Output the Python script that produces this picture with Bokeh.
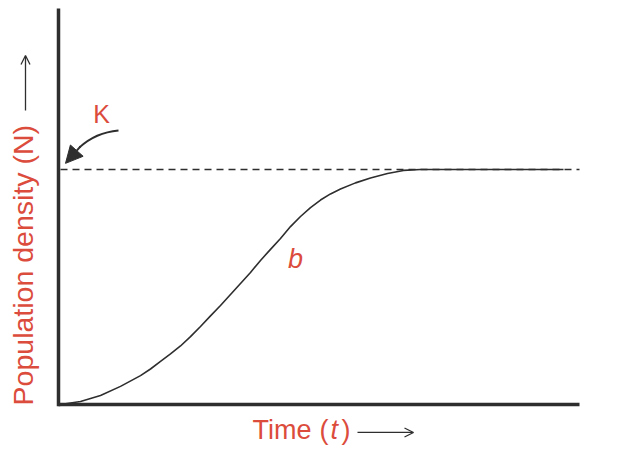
import math
from bokeh.plotting import figure
from bokeh.models import Range1d, Label, Arrow, NormalHead, OpenHead
from bokeh.embed import file_html
from bokeh.resources import INLINE

# Logistic growth curve (time t vs population density N), K = carrying capacity
K = 100
T_MAX = 104.2
N_TOP = 168.5
time_t = [0.4, 4.4, 8.4, 12.4, 16.4, 18.4, 20.4, 22.4, 24.4, 26.4, 28.4, 30.4, 32.4, 34.4,
          36.4, 38.4, 40.4, 42.4, 44.4, 46.4, 48.4, 50.4, 52.4, 54.4, 56.4, 59.4, 62.4,
          65.8, 69.0, 72.4, 101.0]
density_n = [0.0, 1.3, 3.8, 7.7, 12.3, 15.1, 18.3, 21.5, 24.9, 28.9, 33.2, 37.7, 42.1, 46.8,
             51.5, 56.2, 61.3, 66.0, 70.6, 75.7, 80.0, 83.8, 87.0, 89.6, 91.7, 94.3, 96.4,
             98.3, 99.6, 100.0, 100.0]

RED = "#dc4c3c"
INK = "#2e2e2e"
FONT = "Liberation Sans"

p = figure(width=623, height=456, output_backend="svg", toolbar_location=None,
           x_range=Range1d(-11.6, 113.0), y_range=Range1d(-22.13, 171.9),
           min_border=0)
p.outline_line_color = None
p.xgrid.visible = False
p.ygrid.visible = False
p.xaxis.visible = False
p.yaxis.visible = False

# axes drawn at the data origin
p.segment(x0=[0, 0], y0=[-0.8, 0], x1=[0, T_MAX], y1=[N_TOP, 0], line_color=INK, line_width=3.5)

# carrying capacity
p.segment(x0=[0.4], y0=[K], x1=[T_MAX], y1=[K], line_color=INK, line_width=1.5, line_dash="7 5")
p.line(time_t, density_n, line_color=INK, line_width=1.6)

# K label with curved arrow
p.add_layout(Label(x=8.6, y=123.8, text="K", text_color=RED, text_font=FONT, text_font_size="25px",
                   text_align="center", text_baseline="middle"))
p.quadratic(x0=[12.0], y0=[116.6], x1=[4.2], y1=[109.4], cx=[7.4], cy=[115.7],
            line_color=INK, line_width=2)
p.add_layout(Arrow(x_start=4.4, y_start=109.8, x_end=1.4, y_end=102.6, line_color=INK, line_width=2,
                   end=NormalHead(size=17, fill_color=INK, line_color=INK)))

# b label
p.add_layout(Label(x=47.4, y=62.1, text="b", text_color=RED, text_font=FONT, text_font_size="27px",
                   text_font_style="italic", text_align="center", text_baseline="middle"))

# x-axis title
for txt, xx, style in (("Time", 38.8, "normal"), ("(", 52.2, "normal"), ("t", 54.4, "italic"),
                       (")", 56.6, "normal")):
    p.add_layout(Label(x=xx, y=-10.7, text=txt, text_color=RED, text_font=FONT, text_font_size="27px",
                       text_font_style=style, text_align="left", text_baseline="middle"))
p.add_layout(Arrow(x_start=59.8, y_start=-11.9, x_end=71.0, y_end=-11.9, line_color=INK, line_width=1.3,
                   end=OpenHead(size=9, line_color=INK, line_width=1.3)))

# y-axis title
p.add_layout(Label(x=-7.2, y=-0.4, text="Population density (N)", angle=math.pi / 2,
                   text_color=RED, text_font=FONT, text_font_size="28.5px",
                   text_align="left", text_baseline="middle"))
p.add_layout(Arrow(x_start=-6.6, y_start=125.1, x_end=-6.6, y_end=148.5, line_color=INK, line_width=1.3,
                   end=OpenHead(size=9, line_color=INK, line_width=1.3)))

open("out.html", "w").write(file_html(p, INLINE))
